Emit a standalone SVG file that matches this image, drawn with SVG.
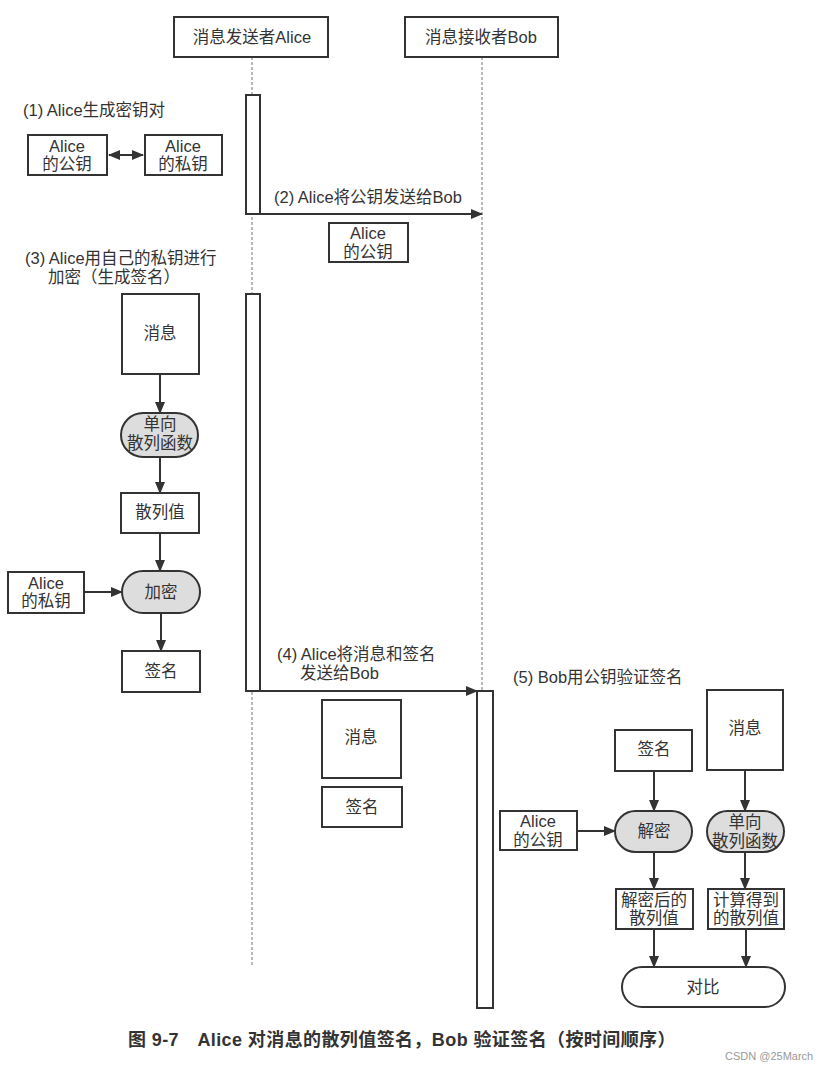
<svg xmlns="http://www.w3.org/2000/svg" width="823" height="1069" viewBox="0 0 823 1069">
<defs>
<style>
text{font-family:"Liberation Sans","Noto Sans CJK SC",sans-serif;font-size:16.5px;fill:#333}
.c{text-anchor:middle;dominant-baseline:central}
.l{dominant-baseline:central}
.box{fill:#fff;stroke:#333;stroke-width:2}
.pill{fill:#ddd;stroke:#333;stroke-width:2}
.pillw{fill:#fff;stroke:#333;stroke-width:2}
.act{fill:#fff;stroke:#333;stroke-width:2}
.life{stroke:#777;stroke-width:1;stroke-dasharray:3 2;fill:none}
.arr{stroke:#333;stroke-width:2;fill:none;marker-end:url(#ah)}
.cap{font-size:18px;font-weight:bold;fill:#333;letter-spacing:0.4px}
</style>
<marker id="ah" markerUnits="userSpaceOnUse" markerWidth="12" markerHeight="10" refX="11" refY="5" orient="auto-start-reverse">
<path d="M0,0 L12,5 L0,10 z" fill="#333"/>
</marker>
</defs>
<rect width="823" height="1069" fill="#fff"/>

<g id="connectors">
<line class="life" x1="252" y1="57" x2="252" y2="967"/>
<line class="life" x1="482" y1="57" x2="482" y2="691"/>
<line class="arr" x1="260" y1="214" x2="482" y2="214"/>
<line class="arr" x1="261" y1="691" x2="477" y2="691"/>
<line class="arr" x1="109" y1="155" x2="143" y2="155" style="marker-start:url(#ah)"/>
<line class="arr" x1="160" y1="374" x2="160" y2="413"/>
<line class="arr" x1="160" y1="457" x2="160" y2="493"/>
<line class="arr" x1="160" y1="533" x2="160" y2="571"/>
<line class="arr" x1="84" y1="592" x2="122" y2="592"/>
<line class="arr" x1="161" y1="613" x2="161" y2="651"/>
<line class="arr" x1="654" y1="771" x2="654" y2="811"/>
<line class="arr" x1="745" y1="770" x2="745" y2="811"/>
<line class="arr" x1="577" y1="831" x2="615" y2="831"/>
<line class="arr" x1="654" y1="852" x2="654" y2="889"/>
<line class="arr" x1="745" y1="852" x2="745" y2="889"/>
<line class="arr" x1="654" y1="929" x2="654" y2="967"/>
<line class="arr" x1="746" y1="929" x2="746" y2="967"/>
</g>

<g id="alice-header"><rect class="box" x="174" y="17" width="154" height="40"/><text class="c" x="252" y="37">消息发送者Alice</text></g>
<g id="bob-header"><rect class="box" x="405" y="17" width="153" height="40"/><text class="c" x="481" y="37">消息接收者Bob</text></g>

<g id="alice-act1"><rect class="act" x="246" y="95" width="14" height="119"/></g>
<g id="alice-act2"><rect class="act" x="246" y="294" width="14" height="397"/></g>
<g id="bob-act"><rect class="act" x="477" y="691" width="16" height="317"/></g>

<g id="label1"><text class="l" x="23" y="110">(1) Alice生成密钥对</text></g>
<g id="pubkey1"><rect class="box" x="28" y="135" width="79" height="40"/><text class="c" x="67" y="146">Alice</text><text class="c" x="67" y="164">的公钥</text></g>
<g id="privkey1"><rect class="box" x="145" y="135" width="77" height="40"/><text class="c" x="183" y="146">Alice</text><text class="c" x="183" y="164">的私钥</text></g>

<g id="label2"><text class="l" x="274" y="197">(2) Alice将公钥发送给Bob</text></g>
<g id="pubkey2"><rect class="box" x="329" y="223" width="79" height="39"/><text class="c" x="368" y="233">Alice</text><text class="c" x="368" y="252">的公钥</text></g>

<g id="label3"><text class="l" x="25" y="258">(3) Alice用自己的私钥进行</text><text class="l" x="48" y="277">加密（生成签名）</text></g>
<g id="msg3"><rect class="box" x="122" y="294" width="77" height="80"/><text class="c" x="160" y="333">消息</text></g>
<g id="hash3"><rect class="pill" x="121" y="413" width="77" height="44" rx="22"/><text class="c" x="160" y="424">单向</text><text class="c" x="160" y="443">散列函数</text></g>
<g id="hashval3"><rect class="box" x="121" y="493" width="78" height="40"/><text class="c" x="160" y="512">散列值</text></g>
<g id="privkey3"><rect class="box" x="8" y="572" width="76" height="41"/><text class="c" x="46" y="583">Alice</text><text class="c" x="46" y="601">的私钥</text></g>
<g id="encrypt3"><rect class="pill" x="122" y="571" width="78" height="42" rx="21"/><text class="c" x="161" y="592">加密</text></g>
<g id="sig3"><rect class="box" x="122" y="651" width="78" height="41"/><text class="c" x="161" y="671">签名</text></g>

<g id="label4"><text class="l" x="277" y="654">(4) Alice将消息和签名</text><text class="l" x="300" y="673">发送给Bob</text></g>
<g id="msg4"><rect class="box" x="322" y="700" width="79" height="78"/><text class="c" x="361" y="737">消息</text></g>
<g id="sig4"><rect class="box" x="322" y="787" width="80" height="40"/><text class="c" x="362" y="807">签名</text></g>

<g id="label5"><text class="l" x="513" y="677">(5) Bob用公钥验证签名</text></g>
<g id="sig5"><rect class="box" x="615" y="730" width="77" height="41"/><text class="c" x="654" y="749">签名</text></g>
<g id="msg5"><rect class="box" x="707" y="690" width="76" height="80"/><text class="c" x="745" y="728">消息</text></g>
<g id="pubkey5"><rect class="box" x="500" y="811" width="77" height="39"/><text class="c" x="538" y="821">Alice</text><text class="c" x="538" y="840">的公钥</text></g>
<g id="decrypt5"><rect class="pill" x="615" y="811" width="77" height="41" rx="20.5"/><text class="c" x="654" y="831">解密</text></g>
<g id="hash5"><rect class="pill" x="707" y="811" width="77" height="41" rx="20.5"/><text class="c" x="745" y="822">单向</text><text class="c" x="745" y="841">散列函数</text></g>
<g id="dechash5"><rect class="box" x="616" y="889" width="77" height="40"/><text class="c" x="654" y="900">解密后的</text><text class="c" x="654" y="918">散列值</text></g>
<g id="calchash5"><rect class="box" x="708" y="889" width="76" height="40"/><text class="c" x="746" y="900">计算得到</text><text class="c" x="746" y="918">的散列值</text></g>
<g id="compare5"><rect class="pillw" x="622" y="967" width="163" height="40" rx="20"/><text class="c" x="703" y="987">对比</text></g>

<g id="caption"><text class="cap l" x="128" y="1040">图 9-7　Alice 对消息的散列值签名，Bob 验证签名（按时间顺序）</text></g>
<g id="watermark"><text class="l" x="725" y="1056" style="font-size:11px;fill:#999">CSDN @25March</text></g>
</svg>
